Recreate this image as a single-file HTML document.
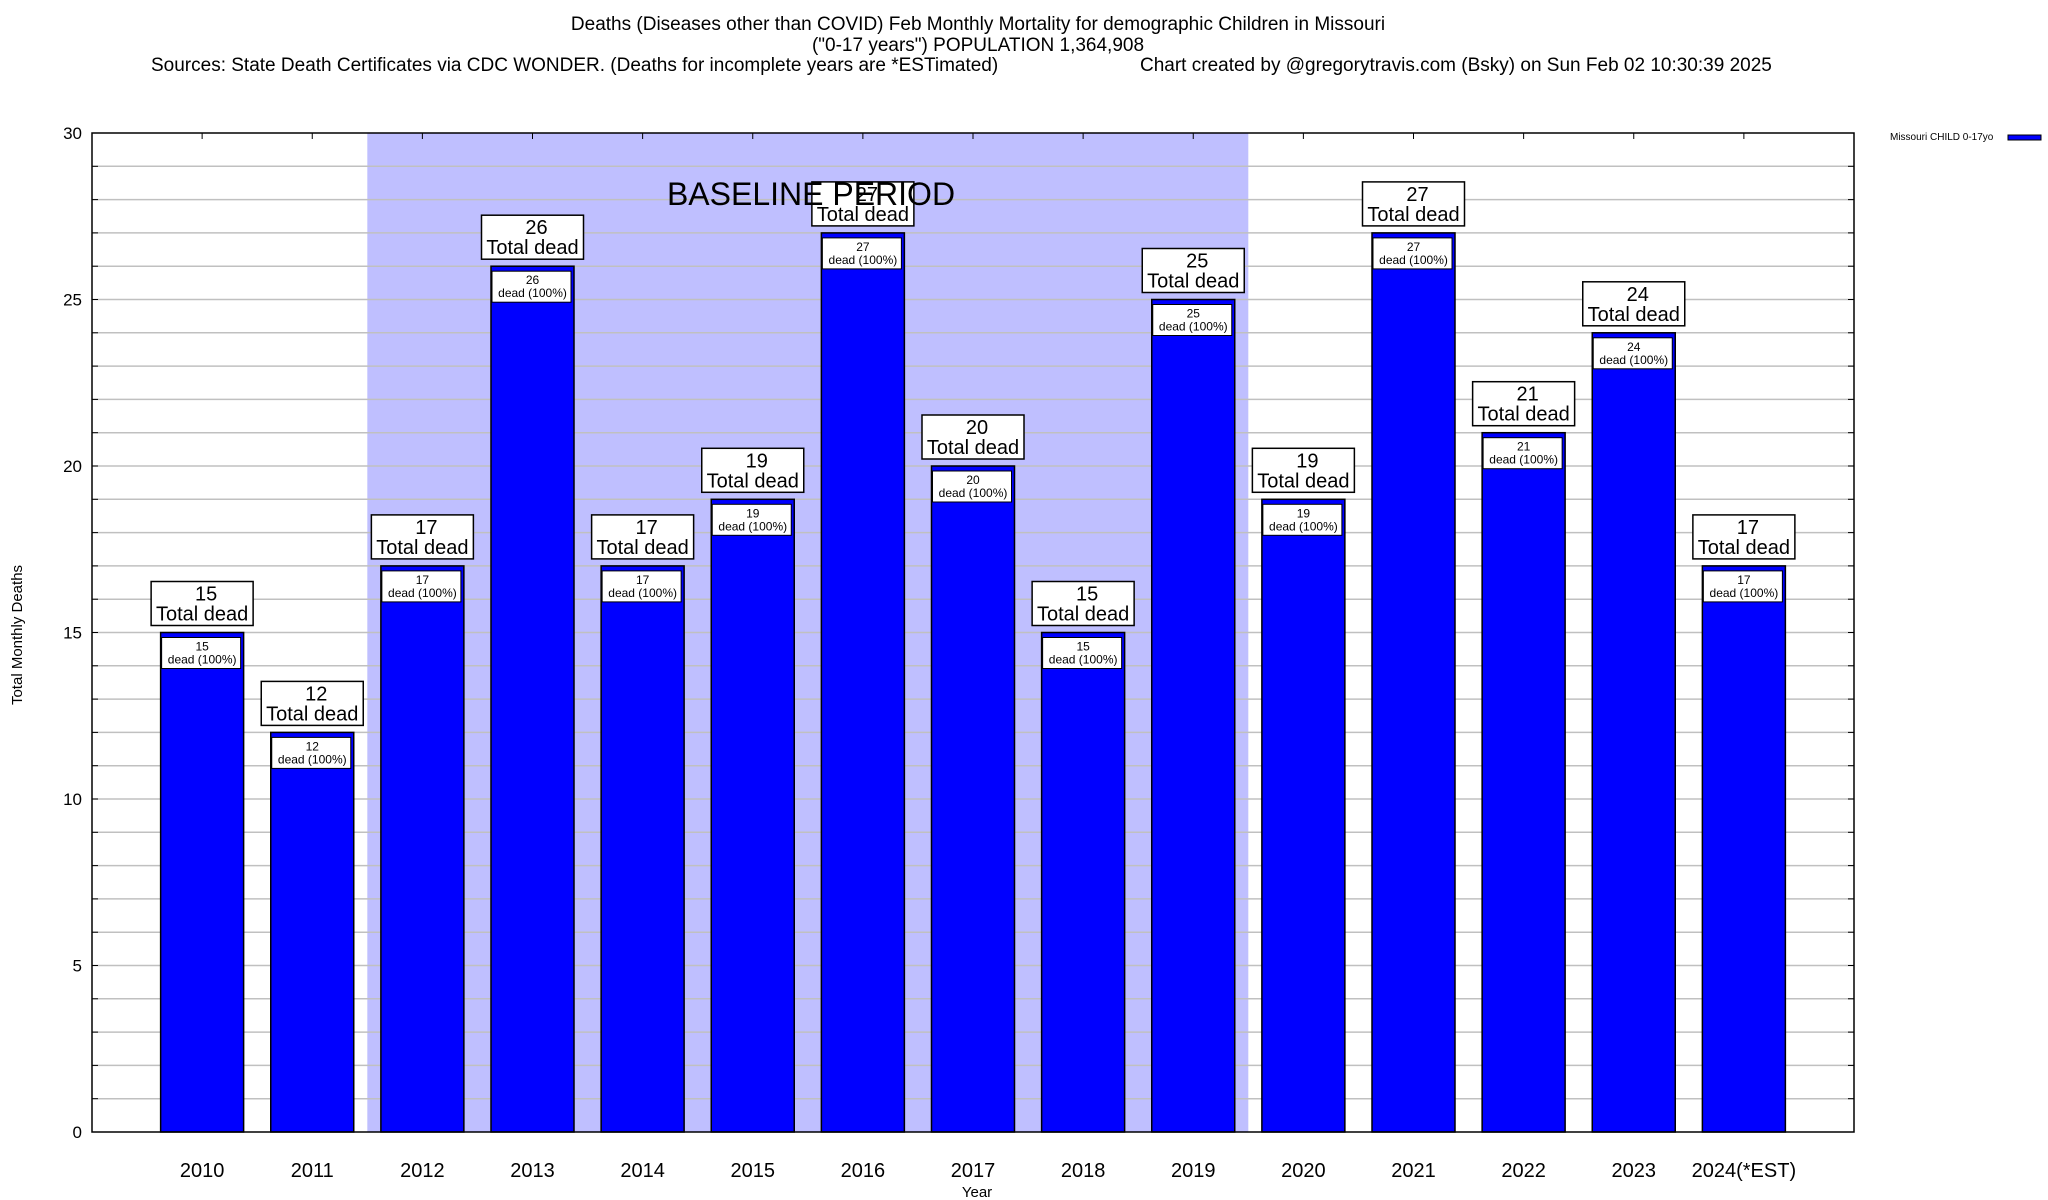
<!DOCTYPE html>
<html><head><meta charset="utf-8"><style>
html,body{margin:0;padding:0;background:#fff;}
svg{display:block;font-family:"Liberation Sans",sans-serif;}
</style></head><body>
<svg id="chart" width="2048" height="1200" viewBox="0 0 2048 1200">
<g font-size="19" text-anchor="middle" fill="#000">
<text x="978" y="30">Deaths (Diseases other than COVID) Feb Monthly Mortality for demographic Children in Missouri</text>
<text x="978" y="51">("0-17 years") POPULATION 1,364,908</text>
<text x="151" y="71" text-anchor="start">Sources: State Death Certificates via CDC WONDER. (Deaths for incomplete years are *ESTimated)</text>
<text x="1140" y="71" text-anchor="start">Chart created by @gregorytravis.com (Bsky) on Sun Feb 02 10:30:39 2025</text>
</g>
<g id="plot"></g>
<text x="22" y="635" font-size="15" text-anchor="middle" transform="rotate(-90 22 635)">Total Monthly Deaths</text>
<text x="977" y="1197" font-size="15" text-anchor="middle">Year</text>
<g>
<text x="1890" y="140" font-size="10">Missouri CHILD 0-17yo</text>
<rect x="2008" y="135" width="33" height="5" fill="#0000ff" stroke="#000" stroke-width="1"/>
</g>
</svg>
<script>
const categories = ["2010","2011","2012","2013","2014","2015","2016","2017","2018","2019","2020","2021","2022","2023","2024(*EST)"];
const deaths = [15,12,17,26,17,19,27,20,15,25,19,27,21,24,17];
const yTicks = [0,5,10,15,20,25,30];
const baselineStart = "2012";
const baselineEnd = "2019";

const NS = "http://www.w3.org/2000/svg";
const L = 92, R = 1854, T = 133, B = 1132, yMax = 30;
const step = (R - L) / (categories.length + 1);
const barW = 83;
const xc = i => L + (i + 1) * step;
const y = v => B - v / yMax * (B - T);
const g = document.getElementById('plot');
function mk(tag, attrs, parent) {
  const e = document.createElementNS(NS, tag);
  for (const k in attrs) e.setAttribute(k, attrs[k]);
  (parent || g).appendChild(e);
  return e;
}
const bs = categories.indexOf(baselineStart), be = categories.indexOf(baselineEnd);
const shade = mk('rect', {x: xc(bs) - step / 2, y: T, width: (be - bs + 1) * step, height: B - T, fill: '#bfbfff'});


for (let v = 1; v < yMax; v++) {
  const gl = mk('line', {x1: L, x2: R, y1: y(v), y2: y(v), stroke: '#c0c0c0', 'stroke-width': 1.5});
  
  
  mk('line', {x1: L, x2: L + 6, y1: y(v), y2: y(v), stroke: '#000'});
  mk('line', {x1: R - 6, x2: R, y1: y(v), y2: y(v), stroke: '#000'});
}
yTicks.forEach(v => {
  const t = mk('text', {x: 82, y: y(v) + 6, 'font-size': 17, 'text-anchor': 'end'});
  t.textContent = v;
  
  
});
categories.forEach((c, i) => {
  const cx = xc(i), v = deaths[i], top = y(v);
  mk('line', {x1: cx, x2: cx, y1: T, y2: T + 6, stroke: '#000'});
  const bar = mk('rect', {x: cx - barW / 2, y: top, width: barW, height: B - top, fill: '#0000ff', stroke: '#000', 'stroke-width': 1.5});
  
  
  const ib = mk('rect', {x: cx - barW / 2 + 1, y: top + 5, width: barW - 4, height: 31, fill: '#fff', stroke: '#000', 'stroke-width': 1});
  
  
  const t1 = mk('text', {x: cx, y: top + 18, 'font-size': 12, 'text-anchor': 'middle'});
  t1.textContent = v;
  
  
  const t2 = mk('text', {x: cx, y: top + 31, 'font-size': 12, 'text-anchor': 'middle'});
  t2.textContent = 'dead (100%)';
  
  
  const ob = mk('rect', {x: cx - 51, y: top - 51, width: 102, height: 44, fill: '#fff', stroke: '#000', 'stroke-width': 1.5});
  
  
  const t3 = mk('text', {x: cx + 4, y: top - 32, 'font-size': 20, 'text-anchor': 'middle'});
  t3.textContent = v;
  
  
  const t4 = mk('text', {x: cx, y: top - 12, 'font-size': 20, 'text-anchor': 'middle'});
  t4.textContent = 'Total dead';
  
  
  const xl = mk('text', {x: cx, y: 1177, 'font-size': 20, 'text-anchor': 'middle'});
  xl.textContent = c;
  
  
});
const bt = mk('text', {x: 811, y: 205, 'font-size': 32, 'text-anchor': 'middle'});
bt.textContent = 'BASELINE PERIOD';


const fr = mk('rect', {x: L, y: T, width: R - L, height: B - T, fill: 'none', stroke: '#000', 'stroke-width': 1.5});


</script>
</body></html>
